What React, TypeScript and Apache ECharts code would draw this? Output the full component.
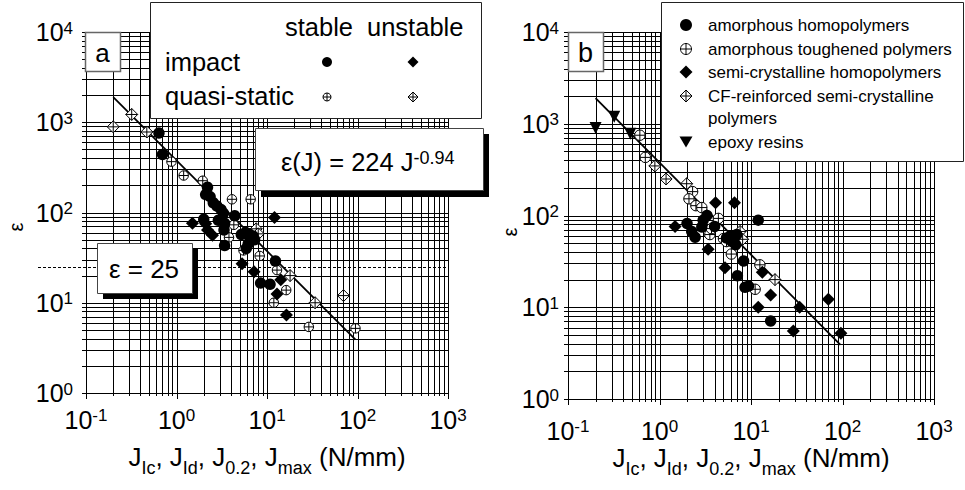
import React, { useEffect, useRef } from 'react';
import * as echarts from 'echarts';

const FONT = "'Liberation Sans', Arial, Helvetica, sans-serif";

// ---------- Panel a: J (N/mm) vs ε ----------
const impactStable: number[][] = [
  [0.64, 760], [0.7, 440], [2.2, 190], [2.1, 158], [2.35, 150], [2.55, 128], [2.8, 118],
  [3.1, 108], [3.3, 98], [4.4, 92], [2.0, 84], [2.9, 82], [3.35, 64], [3.4, 76], [3.4, 43],
  [5.2, 57], [5.8, 60], [6.3, 58], [6.6, 52], [7.0, 55], [7.3, 50], [6.2, 45], [5.9, 40],
  [12.4, 29], [8.5, 16.5], [10.8, 16],
];
const impactUnstable: number[][] = [
  [1.5, 76], [2.1, 75], [2.2, 64], [2.5, 56], [12.1, 88], [5.3, 27], [7.2, 22],
  [14.2, 18], [12.9, 12.5], [16.4, 7.3],
];
const quasiStable: number[][] = [
  [0.88, 366], [1.2, 257], [1.95, 225], [4.1, 140], [6.6, 140], [4.3, 73], [3.8, 53],
  [5.5, 38], [8.3, 33], [12.9, 23], [16.3, 13.8], [11.9, 10], [29, 5.4], [95, 5.2],
];
const quasiUnstable: number[][] = [
  [0.2, 890], [0.32, 1220], [0.47, 780], [7.6, 66], [8.0, 58], [18, 20], [34, 10], [70, 12],
];

// ---------- Panel b ----------
const amorphousHomo: number[][] = [
  [12, 89], [3.3, 100], [2.0, 82], [2.25, 67], [2.45, 58], [3.0, 89], [2.9, 75], [4.0, 76],
  [5.4, 57], [6.0, 60], [6.5, 55], [7.0, 62], [6.8, 48], [6.2, 52], [7.1, 22], [8.3, 32],
  [8.6, 16.5], [9.4, 17], [16.4, 7.1],
];
const amorphousTough: number[][] = [
  [0.61, 750], [0.7, 430], [2.3, 182], [2.1, 152], [2.5, 128], [2.9, 122], [4.4, 93],
  [3.55, 62], [3.7, 72], [5.0, 56], [5.4, 52], [6.1, 38], [12.5, 29], [11.1, 15.7],
];
const semiCryst: number[][] = [
  [4.1, 138], [6.6, 138], [1.48, 76], [3.4, 43], [5.2, 27], [13.3, 24], [16.4, 13.6],
  [12, 10], [34, 10], [70, 12.2], [29, 5.5], [96, 5.2],
];
const cfReinforced: number[][] = [
  [0.89, 347], [1.18, 250], [1.98, 222], [7.6, 67], [8.1, 55], [18.3, 20],
];
const epoxy: number[][] = [[0.2, 900], [0.32, 1190], [0.48, 780]];

// fitted power law as drawn, and ε limit
const fitLine: number[][] = [[0.2, 1900], [95, 3.9]];
const epsLimit = 25;

// grid: log decades × multipliers
const xDecades = [0.1, 1, 10, 100];
const yDecades = [1, 10, 100, 1000];
const multipliers = [1, 2, 3, 4, 5, 6, 7, 8, 9];
const xMin = 0.1, xMax = 1000, yMin = 1, yMax = 10000;

const legendB = [
  'amorphous homopolymers',
  'amorphous toughened polymers',
  'semi-crystalline homopolymers',
  'CF-reinforced semi-crystalline',
  'polymers',
  'epoxy resins',
];

const CROSS_CIRCLE = 'path://M10,0A10,10,0,1,1,10,20A10,10,0,1,1,10,0Z M0,10L20,10 M10,0L10,20';
const CROSS_DIAMOND = 'path://M10,0L20,10L10,20L0,10Z M0,10L20,10 M10,0L10,20';

const gridData: number[][] = [];
xDecades.forEach((d) => multipliers.forEach((m) => gridData.push([d * m, yMin, 0, m === 1 ? 1 : 0])));
gridData.push([xMax, yMin, 0, 1]);
yDecades.forEach((d) => multipliers.forEach((m) => gridData.push([xMin, d * m, 1, m === 1 ? 1 : 0])));
gridData.push([xMin, yMax, 1, 1]);

function gridSeries(i: number) {
  return {
    type: 'custom',
    xAxisIndex: i,
    yAxisIndex: i,
    data: gridData,
    encode: { x: 0, y: 1 },
    clip: false,
    silent: true,
    z: 1,
    renderItem: (params: any, api: any) => {
      const cs = params.coordSys;
      const p = api.coord([api.value(0), api.value(1)]);
      const dir = api.value(2);
      const major = api.value(3) === 1;
      if (dir === 0) {
        const x = Math.round(p[0]) + 0.5;
        return {
          type: 'line',
          shape: { x1: x, y1: cs.y, x2: x, y2: cs.y + cs.height + (major ? 6 : 3) },
          style: { stroke: '#000', lineWidth: 1 },
        };
      }
      const y = Math.round(p[1]) + 0.5;
      return {
        type: 'line',
        shape: { x1: cs.x - 4, y1: y, x2: cs.x + cs.width, y2: y },
        style: { stroke: '#000', lineWidth: 1 },
      };
    },
  };
}

function scatter(name: string, data: number[][], i: number, symbol: string, size: number, filled: boolean, rotate = 0) {
  return {
    type: 'scatter',
    name,
    data,
    xAxisIndex: i,
    yAxisIndex: i,
    symbol,
    symbolSize: size,
    symbolRotate: rotate,
    silent: true,
    z: 4,
    itemStyle: filled
      ? { color: '#000', borderWidth: 0, opacity: 1 }
      : { color: '#fff', borderColor: '#000', borderWidth: 1, opacity: 1 },
  };
}

function fitSeries(i: number) {
  return {
    type: 'line',
    xAxisIndex: i,
    yAxisIndex: i,
    data: fitLine,
    symbol: 'none',
    silent: true,
    z: 3,
    lineStyle: { color: '#000', width: 1.8 },
  };
}

const dashedSeries = {
  type: 'custom',
  xAxisIndex: 0,
  yAxisIndex: 0,
  data: [[xMin, epsLimit]],
  encode: { x: 0, y: 1 },
  clip: false,
  silent: true,
  z: 2,
  renderItem: (params: any, api: any) => {
    const cs = params.coordSys;
    const p = api.coord([api.value(0), api.value(1)]);
    const y = Math.round(p[1]) + 0.5;
    return {
      type: 'line',
      shape: { x1: cs.x - 48, y1: y, x2: cs.x + cs.width, y2: y },
      style: { stroke: '#000', lineWidth: 1, lineDash: [3, 2] },
    };
  },
};

const tickRich = {
  b: { fontSize: 25, lineHeight: 25, fontFamily: FONT, color: '#000', verticalAlign: 'top' },
  s: { fontSize: 17, lineHeight: 17, fontFamily: FONT, color: '#000', verticalAlign: 'top' },
};
const tickFormatter = (v: number) => `{b|10}{s|${Math.round(Math.log10(v))}}`;

function xAxis(i: number, margin: number) {
  return {
    type: 'log', logBase: 10, min: xMin, max: xMax, gridIndex: i,
    axisLine: { show: false }, axisTick: { show: false }, splitLine: { show: false },
    axisLabel: { formatter: tickFormatter, rich: tickRich, margin },
  };
}
function yAxis(i: number, margin: number) {
  return {
    type: 'log', logBase: 10, min: yMin, max: yMax, gridIndex: i,
    axisLine: { show: false }, axisTick: { show: false }, splitLine: { show: false },
    axisLabel: { formatter: tickFormatter, rich: tickRich, margin },
  };
}

// ---------- graphics ----------
function txt(x: number, y: number, text: string, fontSize: number, align = 'left', vAlign = 'middle', extra: any = {}) {
  return {
    type: 'text', x, y, z: 120,
    style: {
      text, fill: '#000', fontFamily: FONT, fontSize,
      align, textAlign: align, verticalAlign: vAlign, textVerticalAlign: vAlign, ...extra,
    },
  };
}
function rect(x: number, y: number, w: number, h: number, fill: string, stroke: string | null, lw = 1, z = 110) {
  return {
    type: 'rect', z,
    shape: { x, y, width: w, height: h },
    style: { fill, stroke: stroke || undefined, lineWidth: stroke ? lw : 0 },
  };
}
function dot(cx: number, cy: number, r: number) {
  return { type: 'circle', z: 120, shape: { cx, cy, r }, style: { fill: '#000' } };
}
function diamond(cx: number, cy: number, h: number, filled: boolean) {
  return {
    type: 'polygon', z: 120,
    shape: { points: [[cx, cy - h], [cx + h, cy], [cx, cy + h], [cx - h, cy]] },
    style: filled ? { fill: '#000' } : { fill: '#fff', stroke: '#000', lineWidth: 1 },
  };
}
function cross(cx: number, cy: number, h: number) {
  return [
    { type: 'line', z: 121, shape: { x1: cx - h, y1: cy, x2: cx + h, y2: cy }, style: { stroke: '#000', lineWidth: 1 } },
    { type: 'line', z: 121, shape: { x1: cx, y1: cy - h, x2: cx, y2: cy + h }, style: { stroke: '#000', lineWidth: 1 } },
  ];
}
function openCircle(cx: number, cy: number, r: number) {
  return [
    { type: 'circle', z: 120, shape: { cx, cy, r }, style: { fill: '#fff', stroke: '#000', lineWidth: 1 } },
    ...cross(cx, cy, r),
  ];
}
function openDiamond(cx: number, cy: number, h: number) {
  return [diamond(cx, cy, h, false), ...cross(cx, cy, h)];
}
function triDown(cx: number, cy: number, w: number, h: number) {
  return {
    type: 'polygon', z: 120,
    shape: { points: [[cx - w / 2, cy - h / 2], [cx + w / 2, cy - h / 2], [cx, cy + h / 2]] },
    style: { fill: '#000' },
  };
}

const titleRich = {
  j: { fontSize: 26, lineHeight: 25, fontFamily: FONT, fill: '#000', color: '#000', verticalAlign: 'top' },
  u: { fontSize: 18, lineHeight: 19, fontFamily: FONT, fill: '#000', color: '#000', verticalAlign: 'top', padding: [15, 0, 0, 0] },
};
const titleText = '{j|J}{u|Ic}{j|, J}{u|Id}{j|, J}{u|0.2}{j|, J}{u|max}{j| (N/mm)}';

const graphics: any[] = [
  // panel a: label box
  rect(85.5, 32.5, 35, 39, '#fff', '#666', 1.5),
  txt(102.5, 53, 'a', 26, 'center'),
  // panel a legend
  rect(150.5, 2.5, 331, 116, '#fff', '#222', 1),
  txt(285, 27, 'stable', 25.5),
  txt(367, 27, 'unstable', 25.5),
  txt(165, 62, 'impact', 25.5),
  txt(165, 96, 'quasi-static', 25.5),
  dot(327, 62, 5),
  diamond(413, 62, 5.5, true),
  ...openCircle(327, 97, 4),
  ...openDiamond(413, 97, 5),
  // equation box
  rect(261, 134, 228, 63, '#000', null, 0, 108),
  rect(255.5, 128.5, 228, 62, '#fff', '#444', 1),
  txt(281, 149, '{e|ε(J) = 224 J}{s|-0.94}', 25, 'left', 'top', {
    rich: {
      e: { fontSize: 25.5, lineHeight: 27, fontFamily: FONT, fill: '#000', verticalAlign: 'top' },
      s: { fontSize: 18, lineHeight: 18, fontFamily: FONT, fill: '#000', verticalAlign: 'top' },
    },
  }),
  // ε = 25 box
  rect(103, 249, 95, 50, '#000', null, 0, 108),
  rect(97.5, 243.5, 95, 50, '#fff', '#444', 1),
  txt(144, 269, 'ε = 25', 26, 'center'),
  // axis titles
  txt(267, 444, titleText, 26, 'center', 'top', { rich: titleRich }),
  txt(751, 445, titleText, 26, 'center', 'top', { rich: titleRich }),
  { ...txt(16, 227, 'ε', 20, 'center'), rotation: Math.PI / 2 },
  { ...txt(510, 232, 'ε', 20, 'center'), rotation: Math.PI / 2 },
  // panel b label box
  rect(568.5, 32.5, 35, 39, '#fff', '#666', 1.5),
  txt(585.5, 53, 'b', 27, 'center'),
  // panel b legend
  rect(661.5, 2.5, 302, 159, '#fff', '#222', 1),
  dot(686, 25, 6),
  ...openCircle(686, 49, 5.5),
  diamond(686, 72, 6.5, true),
  ...openDiamond(686, 96, 6),
  triDown(686, 142, 13, 11),
  txt(708, 25, legendB[0], 17),
  txt(708, 49, legendB[1], 17),
  txt(708, 72, legendB[2], 17),
  txt(708, 96, legendB[3], 17),
  txt(708, 118, legendB[4], 17),
  txt(708, 142, legendB[5], 17),
];

const option: any = {
  animation: false,
  backgroundColor: '#fff',
  textStyle: { fontFamily: FONT },
  grid: [
    { left: 86, top: 32, width: 362, height: 361, containLabel: false },
    { left: 568, top: 32, width: 366, height: 367, containLabel: false },
  ],
  xAxis: [xAxis(0, 14), xAxis(1, 19)],
  yAxis: [yAxis(0, 13), yAxis(1, 9)],
  graphic: graphics,
  series: [
    gridSeries(0),
    gridSeries(1),
    dashedSeries,
    fitSeries(0),
    fitSeries(1),
    scatter('quasi-static stable', quasiStable, 0, CROSS_CIRCLE, 9.5, false),
    scatter('quasi-static unstable', quasiUnstable, 0, CROSS_DIAMOND, 12, false),
    scatter('impact stable', impactStable, 0, 'circle', 11.5, true),
    scatter('impact unstable', impactUnstable, 0, 'diamond', 13, true),
    scatter('amorphous toughened polymers', amorphousTough, 1, CROSS_CIRCLE, 10.5, false),
    scatter('CF-reinforced semi-crystalline polymers', cfReinforced, 1, CROSS_DIAMOND, 12, false),
    scatter('amorphous homopolymers', amorphousHomo, 1, 'circle', 11.5, true),
    scatter('semi-crystalline homopolymers', semiCryst, 1, 'diamond', 13, true),
    scatter('epoxy resins', epoxy, 1, 'triangle', 12, true, 180),
  ],
};

export default function App() {
  const ref = useRef<HTMLDivElement>(null);
  useEffect(() => {
    const chart = echarts.init(ref.current as HTMLDivElement, null, { renderer: 'svg' });
    chart.setOption(option);
    return () => chart.dispose();
  }, []);
  return (
    <div
      ref={ref}
      style={{ position: 'fixed', left: 0, top: 0, width: 965, height: 490, background: '#fff' }}
    />
  );
}
